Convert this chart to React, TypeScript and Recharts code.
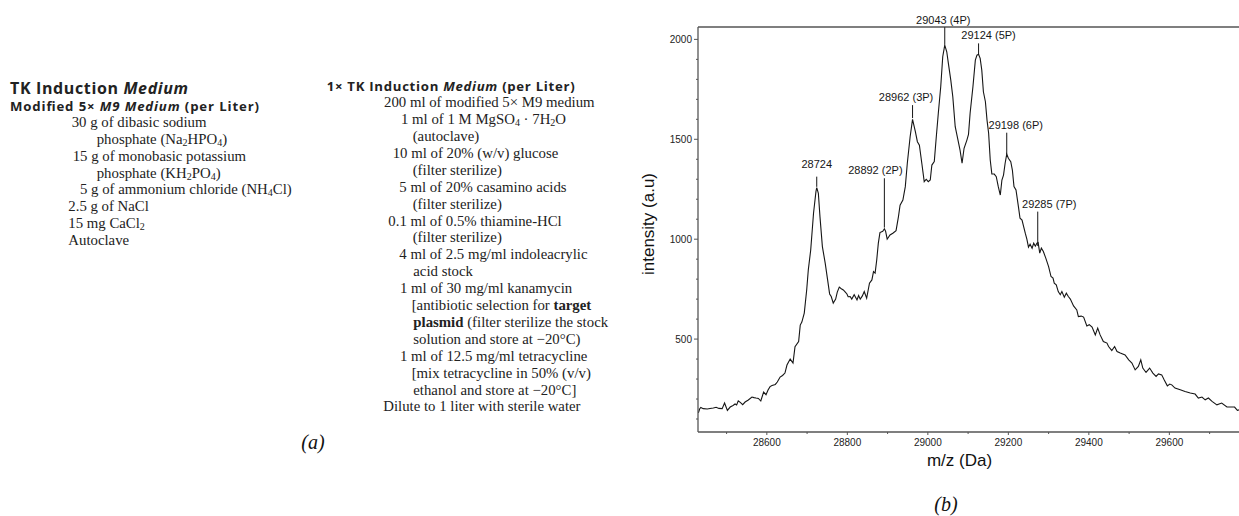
import { Line, LineChart, ReferenceLine, XAxis, YAxis } from 'recharts'

// m/z (Da) sample positions
const mz = [
  28430, 28433, 28436, 28442, 28452, 28459, 28467, 28474, 28481, 28489,
  28495, 28502, 28509, 28516, 28521, 28525, 28529, 28534, 28540, 28546,
  28554, 28563, 28568, 28573, 28579, 28585, 28592, 28598, 28603, 28608,
  28613, 28621, 28626, 28633, 28639, 28645, 28650, 28658, 28665, 28670,
  28679, 28683, 28687, 28693, 28699, 28703, 28709, 28716, 28722, 28724,
  28728, 28732, 28738, 28745, 28751, 28756, 28760, 28765, 28771, 28775,
  28780, 28785, 28790, 28795, 28799, 28802, 28807, 28811, 28817, 28824,
  28828, 28832, 28837, 28842, 28848, 28855, 28861, 28865, 28869, 28873,
  28877, 28881, 28888, 28892, 28895, 28899, 28906, 28913, 28921, 28927,
  28931, 28938, 28944, 28949, 28956, 28962, 28969, 28974, 28979, 28985,
  28991, 28996, 29001, 29006, 29010, 29016, 29021, 29026, 29032, 29037,
  29042, 29047, 29051, 29057, 29062, 29068, 29074, 29080, 29085, 29090,
  29097, 29101, 29105, 29112, 29118, 29122, 29126, 29130, 29134, 29138,
  29143, 29147, 29151, 29155, 29159, 29165, 29170, 29175, 29180, 29184,
  29188, 29192, 29196, 29200, 29206, 29210, 29214, 29219, 29225, 29229,
  29234, 29238, 29242, 29246, 29250, 29254, 29259, 29263, 29267, 29271,
  29274, 29278, 29282, 29287, 29293, 29300, 29306, 29311, 29314, 29319,
  29324, 29329, 29333, 29339, 29344, 29349, 29354, 29362, 29370, 29374,
  29381, 29387, 29395, 29401, 29408, 29416, 29422, 29428, 29436, 29445,
  29449, 29457, 29464, 29470, 29478, 29490, 29499, 29507, 29515, 29523,
  29529, 29534, 29542, 29551, 29559, 29567, 29573, 29581, 29587, 29595,
  29601, 29606, 29614, 29627, 29639, 29652, 29664, 29672, 29681, 29689,
  29697, 29706, 29718, 29730, 29743, 29755, 29762, 29769, 29773,
]

const intensity = [
  131, 150, 158, 152, 150, 153, 155, 159, 153, 152,
  180, 143, 160, 168, 175, 170, 191, 183, 172, 185,
  195, 210, 207, 205, 203, 190, 235, 222, 245, 262,
  268, 273, 285, 310, 318, 330, 370, 400, 380, 462,
  488, 570, 585, 630, 746, 846, 946, 1130, 1238, 1258,
  1230, 1113, 963, 880, 796, 726, 713, 680, 700, 735,
  760, 752, 746, 735, 726, 712, 713, 700, 722, 696,
  718, 700, 715, 738, 705, 780, 796, 838, 830, 896,
  980, 1033, 1040, 1052, 1040, 1000, 1021, 1030, 1043, 1113,
  1170, 1196, 1263, 1380, 1513, 1600, 1538, 1488, 1470, 1380,
  1288, 1300, 1288, 1296, 1371, 1388, 1513, 1630, 1763, 1913,
  1971, 1938, 1880, 1796, 1713, 1563, 1505, 1446, 1380, 1455,
  1496, 1525, 1630, 1763, 1896, 1921, 1925, 1905, 1846, 1738,
  1688, 1596, 1530, 1396, 1326, 1326, 1313, 1263, 1221, 1296,
  1321, 1380, 1426, 1405, 1388, 1346, 1263, 1246, 1163, 1105,
  1096, 1063, 1030, 1000, 960, 975, 955, 980, 965, 980,
  983, 930, 955, 938, 905, 863, 813, 805, 780, 772,
  738, 722, 738, 710, 730, 713, 700, 666, 646, 613,
  615, 610, 566, 572, 560, 521, 555, 521, 488, 480,
  463, 443, 463, 438, 430, 421, 396, 380, 346, 363,
  396, 355, 333, 355, 330, 313, 326, 321, 296, 266,
  275, 271, 255, 246, 238, 230, 225, 205, 210, 196,
  205, 188, 171, 180, 160, 160, 160, 143, 146,
]

const xTicks = [28500, 28600, 28700, 28800, 28900, 29000, 29100, 29200, 29300, 29400, 29500, 29600, 29700]
const yTicks = [100, 200, 300, 400, 500, 600, 700, 800, 900, 1000, 1100, 1200, 1300, 1400, 1500, 1600, 1700, 1800, 1900, 2000]
const X_DOMAIN = [28429, 29773]
const Y_DOMAIN = [35, 2062]

// peak annotations
const peakNames = ['28724', '28892 (2P)', '28962 (3P)', '29043 (4P)', '29124 (5P)', '29198 (6P)', '29285 (7P)']
const peakMz = [28724, 28892, 28962, 29042, 29126, 29196, 29273]
const peakBase = [1262, 1058, 1606, 1972, 1922, 1424, 966]
const peakTop = [1313, 1305, 1671, 2061, 1980, 1533, 1138]

// label placement relative to the top of each marker line (px)
const LABEL_DX = [0, -9, -6.5, -1.5, 10, 9, 11.5]
const LABEL_DY = [-9, -4, -4, -3, -4, -4, -4]

const data = mz.map((m, i) => ({ mz: m, intensity: intensity[i] }))

const SANS = '"Liberation Sans", Arial, Helvetica, sans-serif'
const SERIF = '"Liberation Serif", "Times New Roman", serif'
const HEAD = '"Open Sans", "DejaVu Sans", sans-serif'
const AXIS = '#555'

function YTick(props: any) {
  const { x, y, payload } = props
  const major = payload.value % 500 === 0
  return (
    <g>
      <line x1={x} x2={x - (major ? 4 : 2)} y1={y} y2={y} stroke={AXIS} />
      {major && (
        <text x={x - 6} y={y + 3.6} textAnchor="end" fontSize={10} fontFamily={SANS} fill="#222">
          {payload.value}
        </text>
      )}
    </g>
  )
}

function XTick(props: any) {
  const { x, y, payload } = props
  const major = payload.value % 200 === 0
  return (
    <g>
      <line x1={x} x2={x} y1={y} y2={y + (major ? 3 : 2)} stroke={AXIS} />
      {major && (
        <text x={x} y={y + 14.3} textAnchor="middle" fontSize={10} fontFamily={SANS} fill="#222">
          {payload.value}
        </text>
      )}
    </g>
  )
}

function Sub({ children }: { children: string }) {
  return (
    <tspan fontSize="0.68em" baselineShift="-22%">
      {children}
    </tspan>
  )
}

const leftLines: [number, any][] = [
  [71.7, '30 g of dibasic sodium'],
  [96.7, <>phosphate (Na<Sub>2</Sub>HPO<Sub>4</Sub>)</>],
  [72.7, '15 g of monobasic potassium'],
  [96.7, <>phosphate (KH<Sub>2</Sub>PO<Sub>4</Sub>)</>],
  [80, <>5 g of ammonium chloride (NH<Sub>4</Sub>Cl)</>],
  [68.3, '2.5 g of NaCl'],
  [68.3, <>15 mg CaCl<Sub>2</Sub></>],
  [68.3, 'Autoclave'],
]

const rightLines: [number, any][] = [
  [384, '200 ml of modified 5× M9 medium'],
  [401, <>1 ml of 1 M MgSO<Sub>4</Sub> · 7H<Sub>2</Sub>O</>],
  [412.7, '(autoclave)'],
  [392.7, '10 ml of 20% (w/v) glucose'],
  [412.7, '(filter sterilize)'],
  [399.3, '5 ml of 20% casamino acids'],
  [412.7, '(filter sterilize)'],
  [388.3, '0.1 ml of 0.5% thiamine-HCl'],
  [412.7, '(filter sterilize)'],
  [399.3, '4 ml of 2.5 mg/ml indoleacrylic'],
  [413.3, 'acid stock'],
  [400, '1 ml of 30 mg/ml kanamycin'],
  [411.7, <>[antibiotic selection for <tspan fontWeight="bold">target</tspan></>],
  [413.3, <><tspan fontWeight="bold">plasmid</tspan> (filter sterilize the stock</>],
  [413.3, 'solution and store at −20°C)'],
  [400, '1 ml of 12.5 mg/ml tetracycline'],
  [411.7, '[mix tetracycline in 50% (v/v)'],
  [413.3, 'ethanol and store at −20°C]'],
  [383.3, 'Dilute to 1 liter with sterile water'],
]

function RecipePanel() {
  return (
    <svg width={1239} height={516} style={{ position: 'absolute', left: 0, top: 0, pointerEvents: 'none' }}>
      <g fontFamily={HEAD} fontWeight={700} fill="#222">
        <text x={10} y={94} fontSize={16} textLength={178} lengthAdjust="spacing">
          TK Induction <tspan fontStyle="italic">Medium</tspan>
        </text>
        <text x={10} y={110.7} fontSize={13.2} textLength={249} lengthAdjust="spacing">
          Modified 5× <tspan fontStyle="italic">M9 Medium</tspan> (per Liter)
        </text>
        <text x={326.7} y={90.7} fontSize={13.2} textLength={248} lengthAdjust="spacing">
          1× TK Induction <tspan fontStyle="italic">Medium</tspan> (per Liter)
        </text>
      </g>
      <g fontFamily={SERIF} fontSize={14.8} fill="#222">
        {leftLines.map(([x, t], i) => (
          <text key={'l' + i} x={x} y={127.3 + i * 16.75}>
            {t}
          </text>
        ))}
        {rightLines.map(([x, t], i) => (
          <text key={'r' + i} x={x} y={107.2 + i * 16.9}>
            {t}
          </text>
        ))}
      </g>
      <g fontFamily={SERIF} fontStyle="italic" fontSize={20} fill="#111" textAnchor="middle">
        <text x={313} y={449}>(a)</text>
        <text x={946} y={511}>(b)</text>
      </g>
    </svg>
  )
}

export default function App() {
  return (
    <div style={{ position: 'absolute', left: 0, top: 0, width: 1239, height: 516, background: '#fff' }}>
      <div style={{ position: 'absolute', left: 0, top: 0 }}>
        <LineChart width={1239} height={516} data={data} margin={{ top: 27, right: 0, bottom: 34, left: 637 }}>
          <XAxis
            dataKey="mz"
            type="number"
            domain={X_DOMAIN}
            ticks={xTicks}
            interval={0}
            allowDataOverflow
            height={50}
            tickSize={0}
            tickMargin={0}
            tickLine={false}
            tick={<XTick />}
            axisLine={{ stroke: AXIS, strokeWidth: 1.3 }}
            label={(p: any) => {
              const vb = p.viewBox ?? { x: 698, y: 432, width: 541 }
              return (
                <text x={vb.x + vb.width / 2 - 9} y={vb.y + 34} textAnchor="middle" fontSize={17} fontFamily={SANS} fill="#111">
                  m/z (Da)
                </text>
              )
            }}
          />
          <YAxis
            type="number"
            domain={Y_DOMAIN}
            ticks={yTicks}
            interval={0}
            allowDataOverflow
            width={61}
            tickSize={0}
            tickMargin={0}
            tickLine={false}
            tick={<YTick />}
            axisLine={{ stroke: AXIS, strokeWidth: 1.3 }}
            label={(p: any) => {
              const vb = p.viewBox ?? { x: 637, y: 27, width: 61, height: 405 }
              const cx = vb.x + 17
              const cy = vb.y + vb.height / 2 - 5.5
              return (
                <text x={cx} y={cy} transform={`rotate(-90, ${cx}, ${cy})`} textAnchor="middle" fontSize={17} fontFamily={SANS} fill="#111">
                  intensity (a.u)
                </text>
              )
            }}
          />
          <ReferenceLine y={Y_DOMAIN[1]} stroke={AXIS} strokeWidth={1.3} ifOverflow="visible" />
          <Line type="linear" dataKey="intensity" stroke="#161616" strokeWidth={1.1} dot={false} isAnimationActive={false} />
          {peakNames.map((name, i) => (
            <ReferenceLine
              key={name}
              segment={[
                { x: peakMz[i], y: peakBase[i] },
                { x: peakMz[i], y: peakTop[i] },
              ]}
              stroke="#161616"
              strokeWidth={1}
              ifOverflow="visible"
              label={(p: any) => (
                <text
                  x={p.viewBox.x + LABEL_DX[i]}
                  y={p.viewBox.y + LABEL_DY[i]}
                  textAnchor="middle"
                  fontSize={11}
                  fontFamily={SANS}
                  fill="#161616"
                >
                  {name}
                </text>
              )}
            />
          ))}
        </LineChart>
      </div>
      <RecipePanel />
    </div>
  )
}
